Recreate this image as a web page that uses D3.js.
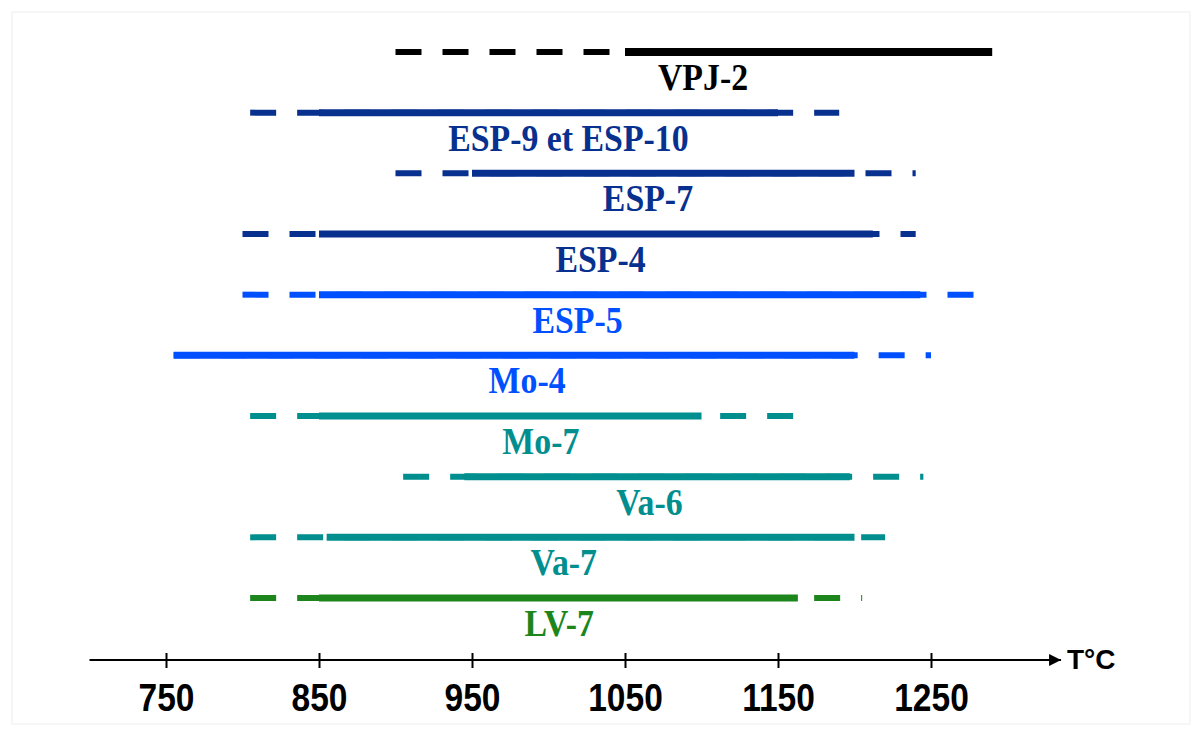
<!DOCTYPE html>
<html>
<head>
<meta charset="utf-8">
<script src="https://cdnjs.cloudflare.com/ajax/libs/d3/7.8.5/d3.min.js"></script>
<style>
  body { margin: 0; background: #fff; }
  svg { display: block; }
</style>
</head>
<body>
<svg width="1203" height="731"></svg>
<script>
// Temperature ranges per sample (°C): dashed = possible extent, solid = core range
const samples    = ["VPJ-2", "ESP-9 et ESP-10", "ESP-7", "ESP-4", "ESP-5", "Mo-4", "Mo-7", "Va-6", "Va-7", "LV-7"];
const dashStart  = [900, 805, 900, 800, 800, 755, 805, 905, 805, 805];
const dashEnd    = [1050, 1190, 1240, 1240, 1280, 1250, 1160, 1245, 1220, 1205];
const solidStart = [1050, 850, 950, 850, 850, 755, 850, 945, 855, 850];
const solidEnd   = [1290, 1150, 1200, 1212, 1243, 1200, 1100, 1197, 1200, 1163];
const labelTemp  = [1101, 1013, 1065, 1034, 1019, 986, 995, 1066, 1010, 1007];
const colors     = ["#000000", "#08318f", "#08318f", "#08318f", "#0050ff", "#0050ff", "#008e8e", "#008e8e", "#008e8e", "#1c861c"];
const tickTemps  = [750, 850, 950, 1050, 1150, 1250];
const axisRange  = [700, 1335];

const svg = d3.select("svg");

// faint frame
svg.append("rect")
    .attr("x", 12).attr("y", 12)
    .attr("width", 1178).attr("height", 712)
    .attr("fill", "none")
    .attr("stroke", "#eeeeee");

const x = d3.scaleLinear().domain([750, 1250]).range([166, 931]);
const y = d3.scalePoint().domain(samples).range([52, 598]);

const rows = samples.map((s, i) => ({
    name: s, d0: dashStart[i], d1: dashEnd[i],
    s0: solidStart[i], s1: solidEnd[i], lab: labelTemp[i], color: colors[i]
}));

const g = svg.append("g");

// dashed extents
g.selectAll(".dash")
    .data(rows)
    .enter().append("line")
    .attr("class", "dash")
    .attr("x1", d => x(d.d0))
    .attr("x2", d => x(d.d1))
    .attr("y1", d => y(d.name))
    .attr("y2", d => y(d.name))
    .attr("stroke", d => d.color)
    .attr("stroke-width", 6)
    .attr("stroke-dasharray", "26,21");

// solid core ranges
g.selectAll(".solid")
    .data(rows)
    .enter().append("line")
    .attr("class", "solid")
    .attr("x1", d => x(d.s0))
    .attr("x2", d => x(d.s1))
    .attr("y1", d => y(d.name))
    .attr("y2", d => y(d.name))
    .attr("stroke", d => d.color)
    .attr("stroke-width", (d, i) => i === 0 ? 8 : 7);

// labels (slightly condensed serif bold)
g.selectAll(".lab")
    .data(rows)
    .enter().append("text")
    .attr("class", "lab")
    .attr("transform", d => "translate(" + x(d.lab) + "," + (y(d.name) + 38) + ") scale(0.89,1)")
    .attr("text-anchor", "middle")
    .attr("font-family", "'Liberation Serif', 'Times New Roman', serif")
    .attr("font-weight", "bold")
    .attr("font-size", 38)
    .attr("fill", d => d.color)
    .text(d => d.name);

// axis
const axisY = 660;
svg.append("defs").append("marker")
    .attr("id", "arrow")
    .attr("viewBox", "0 0 10 10")
    .attr("refX", 10).attr("refY", 5)
    .attr("markerWidth", 8).attr("markerHeight", 6)
    .attr("markerUnits", "strokeWidth")
    .attr("orient", "auto")
    .append("path")
    .attr("d", "M0,0L10,5L0,10Z")
    .attr("fill", "#000");

svg.append("line")
    .attr("x1", x(axisRange[0]))
    .attr("x2", x(axisRange[1]))
    .attr("y1", axisY).attr("y2", axisY)
    .attr("stroke", "#000")
    .attr("stroke-width", 2)
    .attr("marker-end", "url(#arrow)");

const axis = svg.append("g")
    .attr("transform", "translate(0," + axisY + ")")
    .call(d3.axisBottom(x).tickValues(tickTemps).tickSize(8).tickFormat(d3.format("d")));

axis.select(".domain").remove();
axis.selectAll(".tick line")
    .attr("y1", -7).attr("y2", 8)
    .attr("stroke-width", 2);
axis.selectAll(".tick text")
    .attr("y", 0).attr("dy", null)
    .attr("transform", "translate(0,51) scale(0.86,1)")
    .attr("font-family", "'Liberation Sans', Arial, sans-serif")
    .attr("font-weight", "bold")
    .attr("font-size", 39)
    .attr("fill", "#000");

svg.append("text")
    .attr("x", 1067)
    .attr("y", axisY + 9)
    .attr("font-family", "'Liberation Sans', Arial, sans-serif")
    .attr("font-weight", "bold")
    .attr("font-size", 28)
    .text("T°C");
</script>
</body>
</html>
